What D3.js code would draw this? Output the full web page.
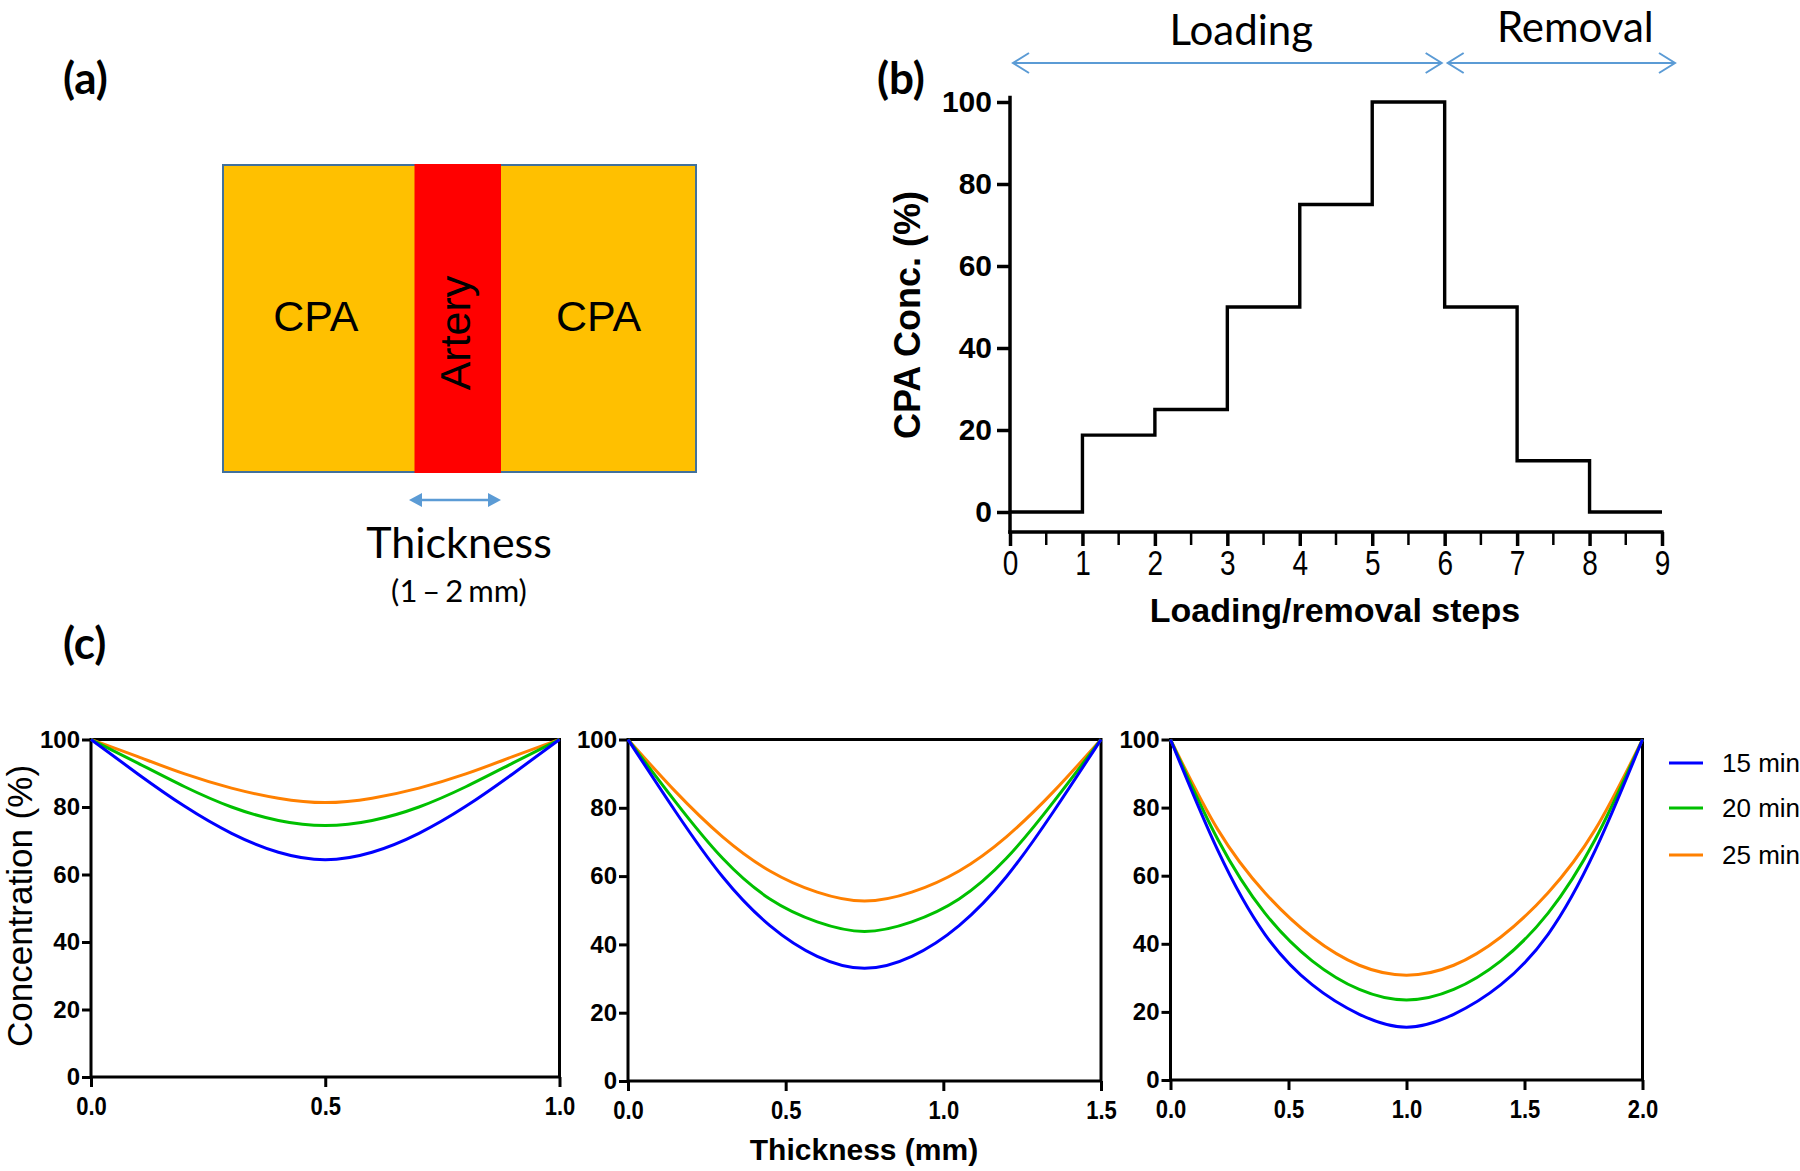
<!DOCTYPE html>
<html>
<head>
<meta charset="utf-8">
<script src="https://d3js.org/d3.v7.min.js"></script>
<style>
  body { margin: 0; background: #ffffff; }
  svg { display: block; }
</style>
</head>
<body>
<div id="chart"></div>
<script>

// ---- panel (b): loading / removal protocol ----
var stepX = [0, 1, 2, 3, 4, 5, 6, 7, 8, 9];
var stepConc = [0, 18.75, 25, 50, 75, 100, 50, 12.5, 0, 0];
var stepTicks = [0, 1, 2, 3, 4, 5, 6, 7, 8, 9];
var stepMinorTicks = [0.5, 1.5, 2.5, 3.5, 4.5, 5.5, 6.5, 7.5, 8.5];
var concTicks = [0, 20, 40, 60, 80, 100];
var phaseNames = ["Loading", "Removal"];
var phaseStart = [0, 6];
var phaseEnd = [6, 9];

// ---- panel (c): concentration profiles across the artery wall ----
var seriesNames = ["15 min", "20 min", "25 min"];
var seriesColors = ["#0000ff", "#00c000", "#ff8000"];

var pos10 = [0, 0.1, 0.2, 0.3, 0.4, 0.5, 0.6, 0.7, 0.8, 0.9, 1.0];
var conc10_15 = [100, 89.8, 80.2, 72.2, 66.6, 64.4, 66.6, 72.2, 80.2, 89.8, 100];
var conc10_20 = [100, 93.0, 86.0, 80.0, 76.0, 74.5, 76.0, 80.0, 86.0, 93.0, 100];
var conc10_25 = [100, 94.9, 89.8, 85.6, 82.6, 81.3, 82.6, 85.6, 89.8, 94.9, 100];
var ticks10 = [0, 0.5, 1.0];

var pos15 = [0, 0.15, 0.3, 0.45, 0.6, 0.75, 0.9, 1.05, 1.2, 1.35, 1.5];
var conc15_15 = [100, 79.0, 59.8, 45.5, 36.5, 33.0, 36.5, 45.5, 59.8, 79.0, 100];
var conc15_20 = [100, 81.8, 65.2, 53.3, 46.6, 43.8, 46.6, 53.3, 65.2, 81.8, 100];
var conc15_25 = [100, 84.8, 71.5, 61.5, 55.3, 52.7, 55.3, 61.5, 71.5, 84.8, 100];
var ticks15 = [0, 0.5, 1.0, 1.5];

var pos20 = [0, 0.2, 0.4, 0.6, 0.8, 1.0, 1.2, 1.4, 1.6, 1.8, 2.0];
var conc20_15 = [100, 67.5, 42.8, 28.0, 19.3, 15.5, 19.3, 28.0, 42.8, 67.5, 100];
var conc20_20 = [100, 70.7, 49.0, 35.0, 26.6, 23.5, 26.6, 35.0, 49.0, 70.7, 100];
var conc20_25 = [100, 73.6, 55.0, 42.0, 33.7, 30.8, 33.7, 42.0, 55.0, 73.6, 100];
var ticks20 = [0, 0.5, 1.0, 1.5, 2.0];

var prism = "'Liberation Sans', Arial, sans-serif";
var office = "Lato, 'Open Sans', sans-serif";
var arrowBlue = "#5b9bd5";

var svg = d3.select("#chart").append("svg")
    .attr("width", 1800)
    .attr("height", 1171);

drawSchematic();
drawProtocol();
drawProfiles();

// panel letters
[["(a)", 63, 94], ["(b)", 877, 94], ["(c)", 63, 659]].forEach(function (d) {
    svg.append("text")
        .attr("x", d[1])
        .attr("y", d[2])
        .attr("font-family", office)
        .attr("font-weight", "bold")
        .attr("font-size", 44)
        .text(d[0]);
});


function drawSchematic() {
    var g = svg.append("g");
    var left = 223, right = 696, top = 165, bottom = 472;
    var wallL = 414.5, wallR = 501;

    g.append("rect")
        .attr("x", left).attr("y", top)
        .attr("width", right - left).attr("height", bottom - top)
        .attr("fill", "#ffc000")
        .attr("stroke", "#41719c")
        .attr("stroke-width", 2);
    g.append("rect")
        .attr("x", wallL).attr("y", top - 1)
        .attr("width", wallR - wallL).attr("height", bottom - top + 2)
        .attr("fill", "#ff0000");

    g.selectAll("text.cpa")
        .data([(left + wallL) / 2 - 3, (wallR + right) / 2])
        .enter().append("text")
        .attr("class", "cpa")
        .attr("x", d => d)
        .attr("y", 331)
        .attr("text-anchor", "middle")
        .attr("font-family", prism)
        .attr("font-size", 43)
        .text("CPA");

    g.append("text")
        .attr("transform", "translate(470,333) rotate(-90)")
        .attr("text-anchor", "middle")
        .attr("font-family", prism)
        .attr("font-size", 43)
        .text("Artery");

    // double arrow under the wall
    var ay = 500, ax0 = 409, ax1 = 501;
    g.append("line")
        .attr("x1", ax0 + 8).attr("x2", ax1 - 8)
        .attr("y1", ay).attr("y2", ay)
        .attr("stroke", arrowBlue)
        .attr("stroke-width", 2.5);
    g.append("path")
        .attr("d", "M" + ax0 + "," + ay + "l13,-7v14z M" + ax1 + "," + ay + "l-13,-7v14z")
        .attr("fill", arrowBlue);

    g.append("text")
        .attr("x", 459).attr("y", 558)
        .attr("text-anchor", "middle")
        .attr("font-family", office)
        .attr("font-size", 43)
        .text("Thickness");
    g.append("text")
        .attr("x", 459).attr("y", 602)
        .attr("text-anchor", "middle")
        .attr("font-family", office)
        .attr("font-size", 31)
        .attr("word-spacing", -3)
        .text("(1 \u2013 2 mm)");
}


function drawProtocol() {
    var g = svg.append("g");
    var axisY = 532;

    var x = d3.scaleLinear().domain([0, 9]).range([1010, 1662]);
    var y = d3.scaleLinear().domain([0, 100]).range([512, 102]);

    // phase arrows above the plot
    var arrowY = 63;
    phaseNames.forEach(function (name, i) {
        var x0 = x(phaseStart[i]) + 3;
        var x1 = x(phaseEnd[i]) + (i === 0 ? -3 : 13);
        g.append("line")
            .attr("x1", x0).attr("x2", x1)
            .attr("y1", arrowY).attr("y2", arrowY)
            .attr("stroke", arrowBlue).attr("stroke-width", 2);
        g.append("path")
            .attr("d", "M" + (x0 + 16) + "," + (arrowY - 10) + "L" + x0 + "," + arrowY + "L" + (x0 + 16) + "," + (arrowY + 10) +
                       "M" + (x1 - 16) + "," + (arrowY - 10) + "L" + x1 + "," + arrowY + "L" + (x1 - 16) + "," + (arrowY + 10))
            .attr("fill", "none")
            .attr("stroke", arrowBlue).attr("stroke-width", 2);
        g.append("text")
            .attr("x", (x0 + x1) / 2 + 14)
            .attr("y", i === 0 ? 45 : 42)
            .attr("text-anchor", "middle")
            .attr("font-family", office)
            .attr("font-size", 42)
            .text(name);
    });

    // y axis
    var yAxis = g.append("g")
        .attr("transform", "translate(" + x(0) + ",0)")
        .call(d3.axisLeft(y).tickValues(concTicks).tickSize(13).tickPadding(5));
    yAxis.select(".domain").remove();
    yAxis.selectAll("line").attr("stroke-width", 3.5);
    yAxis.selectAll("text")
        .attr("font-family", prism)
        .attr("font-weight", "bold")
        .attr("font-size", 30);
    g.append("line")
        .attr("x1", x(0)).attr("x2", x(0))
        .attr("y1", y(101.5)).attr("y2", axisY + 1.75)
        .attr("stroke", "black").attr("stroke-width", 3.5);

    // x axis, offset below zero
    var xAxis = g.append("g")
        .attr("transform", "translate(0," + axisY + ")")
        .call(d3.axisBottom(x).tickValues(stepTicks).tickSize(14).tickPadding(4));
    xAxis.select(".domain").remove();
    xAxis.selectAll("line").attr("stroke-width", 3.5);
    xAxis.selectAll("text")
        .attr("font-family", prism)
        .attr("font-size", 35)
        .attr("transform", "scale(0.8,1)");
    g.selectAll("line.minor")
        .data(stepMinorTicks).enter()
        .append("line")
        .attr("class", "minor")
        .attr("x1", d => x(d)).attr("x2", d => x(d))
        .attr("y1", axisY).attr("y2", axisY + 13)
        .attr("stroke", "black").attr("stroke-width", 2.5);
    g.append("line")
        .attr("x1", x(0) - 1.75).attr("x2", x(9) + 1.75)
        .attr("y1", axisY).attr("y2", axisY)
        .attr("stroke", "black").attr("stroke-width", 3.5);

    // step curve
    var pts = stepX.map((d, i) => [d, stepConc[i]]);
    g.append("path")
        .datum(pts)
        .attr("fill", "none")
        .attr("stroke", "black")
        .attr("stroke-width", 3.4)
        .attr("d", d3.line().x(d => x(d[0])).y(d => y(d[1])).curve(d3.curveStepAfter));

    g.append("text")
        .attr("x", 1335).attr("y", 622)
        .attr("text-anchor", "middle")
        .attr("font-family", prism)
        .attr("font-weight", "bold")
        .attr("font-size", 34)
        .text("Loading/removal steps");
    g.append("text")
        .attr("transform", "translate(920,315) rotate(-90)")
        .attr("text-anchor", "middle")
        .attr("font-family", prism)
        .attr("font-weight", "bold")
        .attr("font-size", 36)
        .text("CPA Conc. (%)");
}


function drawProfiles() {
    var panels = [
        {max: 1.0, pos: pos10, conc: [conc10_15, conc10_20, conc10_25], ticks: ticks10, left: 91, right: 559.5, top: 739.5, bottom: 1077},
        {max: 1.5, pos: pos15, conc: [conc15_15, conc15_20, conc15_25], ticks: ticks15, left: 628, right: 1101, top: 739.5, bottom: 1081},
        {max: 2.0, pos: pos20, conc: [conc20_15, conc20_20, conc20_25], ticks: ticks20, left: 1170.5, right: 1642.5, top: 739.5, bottom: 1080}
    ];

    panels.forEach(function (p) {
        var g = svg.append("g");
        var x = d3.scaleLinear().domain([0, p.max]).range([p.left, p.right]);
        var y = d3.scaleLinear().domain([0, 100]).range([p.bottom, p.top]);

        var xAxis = g.append("g")
            .attr("transform", "translate(0," + p.bottom + ")")
            .call(d3.axisBottom(x).tickValues(p.ticks).tickFormat(d3.format(".1f")).tickSize(10).tickPadding(10));
        xAxis.select(".domain").remove();
        xAxis.selectAll("line").attr("stroke-width", 3);
        xAxis.selectAll("text")
            .attr("font-family", prism)
            .attr("font-weight", "bold")
            .attr("font-size", 25)
            .attr("transform", "scale(0.88,1)");

        var yAxis = g.append("g")
            .attr("transform", "translate(" + p.left + ",0)")
            .call(d3.axisLeft(y).tickValues(concTicks).tickSize(9).tickPadding(2));
        yAxis.select(".domain").remove();
        yAxis.selectAll("line").attr("stroke-width", 3);
        yAxis.selectAll("text")
            .attr("font-family", prism)
            .attr("font-weight", "bold")
            .attr("font-size", 24);

        g.append("rect")
            .attr("x", p.left).attr("y", p.top)
            .attr("width", p.right - p.left).attr("height", p.bottom - p.top)
            .attr("fill", "none")
            .attr("stroke", "black")
            .attr("stroke-width", 3);

        var line = d3.line()
            .x(d => x(d[0]))
            .y(d => y(d[1]))
            .curve(d3.curveNatural);

        p.conc.slice().reverse().forEach(function (vals, k) {
            var idx = p.conc.length - 1 - k;
            g.append("path")
                .datum(p.pos.map((d, i) => [d, vals[i]]))
                .attr("fill", "none")
                .attr("stroke", seriesColors[idx])
                .attr("stroke-width", 3)
                .attr("d", line);
        });
    });

    svg.append("text")
        .attr("transform", "translate(32,906) rotate(-90)")
        .attr("text-anchor", "middle")
        .attr("font-family", prism)
        .attr("font-size", 35)
        .text("Concentration (%)");

    svg.append("text")
        .attr("x", 864).attr("y", 1160)
        .attr("text-anchor", "middle")
        .attr("font-family", prism)
        .attr("font-weight", "bold")
        .attr("font-size", 30)
        .text("Thickness (mm)");

    // legend
    var legY = [763, 808, 855];
    seriesNames.forEach(function (name, i) {
        svg.append("line")
            .attr("x1", 1669).attr("x2", 1703)
            .attr("y1", legY[i]).attr("y2", legY[i])
            .attr("stroke", seriesColors[i])
            .attr("stroke-width", 3);
        svg.append("text")
            .attr("x", 1722).attr("y", legY[i] + 9)
            .attr("font-family", prism)
            .attr("font-size", 26)
            .text(name);
    });
}

</script>
</body>
</html>
